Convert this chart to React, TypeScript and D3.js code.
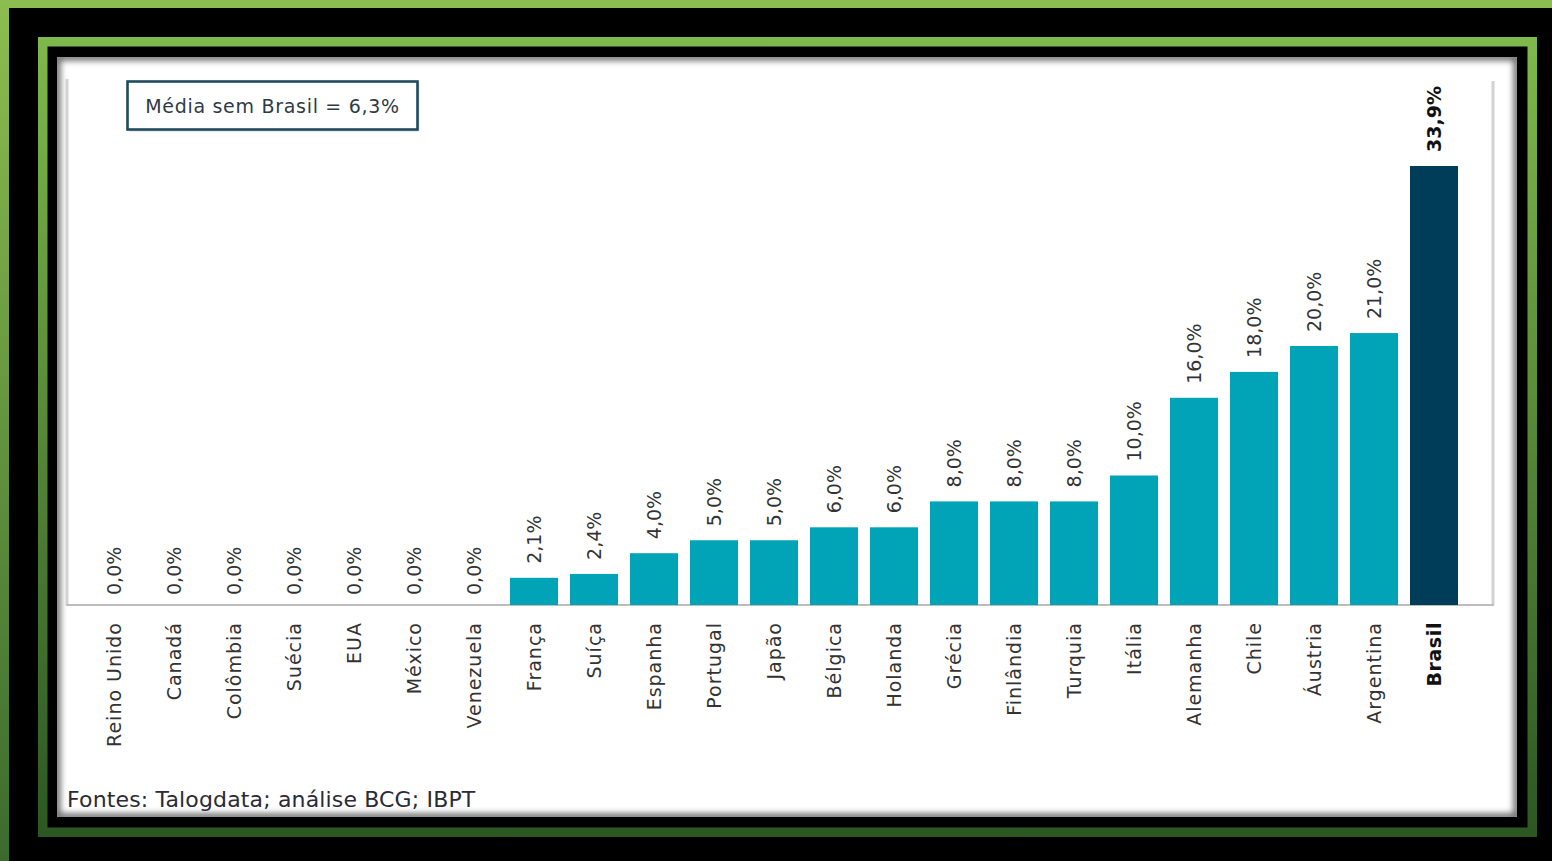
import React, { useEffect } from "react";
import * as d3 from "d3";

// dados (carga tributária por país)
const countries = [
  "Reino Unido", "Canadá", "Colômbia", "Suécia", "EUA", "México", "Venezuela",
  "França", "Suíça", "Espanha", "Portugal", "Japão", "Bélgica", "Holanda",
  "Grécia", "Finlândia", "Turquia", "Itália", "Alemanha", "Chile", "Áustria",
  "Argentina", "Brasil",
];
const values = [
  0, 0, 0, 0, 0, 0, 0, 2.1, 2.4, 4.0, 5.0, 5.0, 6.0, 6.0, 8.0, 8.0, 8.0, 10.0,
  16.0, 18.0, 20.0, 21.0, 33.9,
];
const highlight = "Brasil";
const averageLabel = "Média sem Brasil = 6,3%";
const sourceLabel = "Fontes: Talogdata; análise BCG; IBPT";

const W = 1552;
const H = 861;
const FONT = "'DejaVu Sans', sans-serif";

const ptBR = d3.formatLocale({ decimal: ",", thousands: ".", grouping: [3], currency: ["R$", ""] });
const fmt = ptBR.format(".1f");

export default function App() {
  useEffect(() => {
    document.body.style.margin = "0";
    document.body.style.overflow = "hidden";
  }, []);

  const data = countries.map((c, i) => ({ country: c, value: values[i] }));

  const x = d3.scaleBand<string>()
    .domain(countries)
    .range([84, 1464])
    .paddingInner(0.2)
    .paddingOuter(0.1);
  const y = d3.scaleLinear().domain([0, 33.9]).range([605, 166]);
  const base = y(0);

  // painel branco
  const panel = { x: 57, y: 57, w: 1460, h: 760 };

  return (
    <div style={{ position: "absolute", left: 0, top: 0, width: W, height: H }}>
      <svg width={W} height={H} style={{ display: "block" }}>
        <defs>
          <linearGradient id="outerG" gradientUnits="userSpaceOnUse" x1="0" y1="0" x2="0" y2={H}>
            <stop offset="0" stopColor="#8cbd50" />
            <stop offset="1" stopColor="#3c6a2d" />
          </linearGradient>
          <linearGradient id="innerG" gradientUnits="userSpaceOnUse" x1="0" y1="37" x2="0" y2="837">
            <stop offset="0" stopColor="#7fb84b" />
            <stop offset="1" stopColor="#2c5723" />
          </linearGradient>
          <clipPath id="panelClip">
            <rect x={panel.x} y={panel.y} width={panel.w} height={panel.h} />
          </clipPath>
          <filter id="soft" x="-5%" y="-5%" width="110%" height="110%">
            <feGaussianBlur stdDeviation="3" />
          </filter>
          <filter id="boxShadow" x="-10%" y="-20%" width="120%" height="140%">
            <feGaussianBlur stdDeviation="1.2" />
          </filter>
        </defs>

        {/* moldura */}
        <rect x={0} y={0} width={W} height={H} fill="#000" />
        <rect x={0} y={0} width={W} height={8} fill="#8cbd50" />
        <rect x={0} y={0} width={9} height={H} fill="url(#outerG)" />
        <rect x={42.75} y={41.75} width={1489.5} height={790.5} fill="none"
          stroke="url(#innerG)" strokeWidth={9.5} />

        {/* painel com sombra interna */}
        <rect x={panel.x} y={panel.y} width={panel.w} height={panel.h} fill="#fff" />
        <g clipPath="url(#panelClip)">
          <rect x={panel.x} y={panel.y} width={panel.w} height={panel.h} fill="none"
            stroke="#000" strokeWidth={7} opacity={0.6} filter="url(#soft)" />
        </g>

        {/* eixos */}
        <line x1={67} x2={67} y1={79} y2={base} stroke="#d2d2d2" strokeWidth={3} />
        <line x1={1493} x2={1493} y1={81} y2={base} stroke="#d2d2d2" strokeWidth={3} />
        <line x1={66} x2={1494} y1={base} y2={base} stroke="#bdbdbd" strokeWidth={2} />

        {/* barras */}
        {data.map(d => (
          <rect key={d.country}
            x={x(d.country)}
            y={y(d.value)}
            width={x.bandwidth()}
            height={base - y(d.value)}
            fill={d.country === highlight ? "#003d58" : "#00a4b6"} />
        ))}

        {/* rótulos de valor */}
        {data.map(d => {
          const cx = (x(d.country) ?? 0) + x.bandwidth() / 2;
          const hl = d.country === highlight;
          return (
            <text key={"v" + d.country}
              transform={`translate(${cx},${y(d.value) - (d.value === 0 ? 10 : 14)}) rotate(-90)`}
              dy="0.36em"
              fontFamily={FONT}
              fontSize={19}
              fontWeight={hl ? "bold" : "normal"}
              fill={hl ? "#111" : "#333"}>
              {fmt(d.value) + "%"}
            </text>
          );
        })}

        {/* rótulos de categoria */}
        {data.map(d => {
          const cx = (x(d.country) ?? 0) + x.bandwidth() / 2;
          const hl = d.country === highlight;
          return (
            <text key={"c" + d.country}
              transform={`translate(${cx},${base + 17}) rotate(-90)`}
              dy="0.36em"
              textAnchor="end"
              fontFamily={FONT}
              fontSize={19}
              letterSpacing={hl ? 0.6 : 1}
              fontWeight={hl ? "bold" : "normal"}
              fill={hl ? "#111" : "#333"}>
              {d.country}
            </text>
          );
        })}

        {/* caixa da média */}
        <rect x={128.5} y={83} width={290} height={48} fill="#000" opacity={0.25} filter="url(#boxShadow)" />
        <rect x={127.5} y={81.5} width={290} height={48} fill="#fff" stroke="#1f4b5d" strokeWidth={2.6} />
        <text x={272.5} y={113} textAnchor="middle" fontFamily={FONT} fontSize={19}
          letterSpacing={0.7} fill="#2e3b47">
          {averageLabel}
        </text>

        {/* fonte */}
        <text x={67} y={807} fontFamily={FONT} fontSize={22} letterSpacing={0.15} fill="#2b2b38">
          {sourceLabel}
        </text>
      </svg>
    </div>
  );
}
